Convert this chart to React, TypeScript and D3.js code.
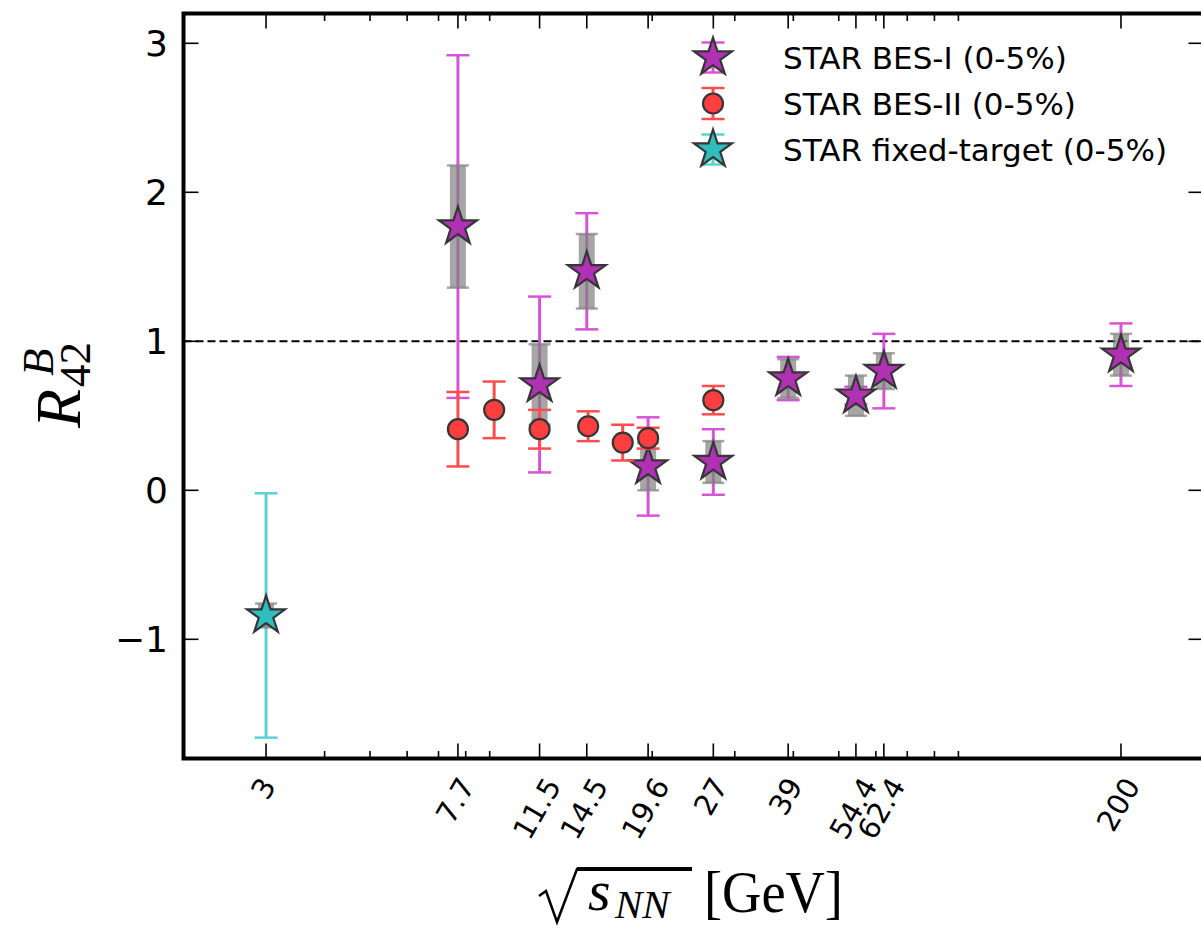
import React from 'react';
import * as d3 from 'd3';

// ---- data ----
const xTickValues = [3, 7.7, 11.5, 14.5, 19.6, 27, 39, 54.4, 62.4, 200];
const xTickLabels = ['3', '7.7', '11.5', '14.5', '19.6', '27', '39', '54.4', '62.4', '200'];
const xMinorTicks = [4, 5, 6, 7, 8, 9, 20, 30, 40, 50, 60, 70, 80, 90];
const yTickValues = [-1, 0, 1, 2, 3];
const yTickLabels = ['\u22121', '0', '1', '2', '3'];

const besIEnergy = [7.7, 11.5, 14.5, 19.6, 27, 39, 54.4, 62.4, 200];
const besIValue = [1.77, 0.71, 1.47, 0.16, 0.19, 0.75, 0.635, 0.8, 0.91];
const besIStat = [1.15, 0.59, 0.39, 0.33, 0.22, 0.145, 0.06, 0.25, 0.21];
const besISys = [0.41, 0.27, 0.25, 0.16, 0.14, 0.13, 0.135, 0.12, 0.14];

const besIIEnergy = [7.7, 9.2, 11.5, 14.6, 17.3, 19.6, 27];
const besIIValue = [0.41, 0.54, 0.41, 0.43, 0.32, 0.35, 0.605];
const besIIStat = [0.25, 0.19, 0.13, 0.1, 0.12, 0.07, 0.095];

const fxtEnergy = [3];
const fxtValue = [-0.84];
const fxtStat = [0.82];
const fxtSys = [0.08];

const legendLabels = ['STAR BES-I (0-5%)', 'STAR BES-II (0-5%)', 'STAR fixed-target (0-5%)'];

// ---- style ----
const MAG_FILL = '#b031b3';
const MAG_ERR = '#d655d6';
const RED_FILL = '#ff3f3f';
const RED_ERR = '#ff4d4d';
const CY_FILL = '#2fbdbd';
const CY_ERR = '#55d5d5';
const EDGE = '#363636';
const SYS = 'rgba(128,128,128,0.7)';

function charWidth(s: string, fs: number) {
  let w = 0;
  for (const c of s) w += c === '.' ? 0.318 : 0.636;
  return w * fs;
}

export default function App() {
  const W = 1201;
  const H = 928;
  const x = d3.scaleLog().domain([2, 300]).range([183.5, 1203.5]);
  const y = d3.scaleLinear().domain([-1.8, 3.2]).range([758.5, 13.5]);
  const [x0, x1] = x.range();
  const [yb, yt] = y.range();
  const starPath = d3.symbol().type(d3.symbolStar).size(449)() as string;

  const statBar = (xv: number, v: number, e: number, color: string, key: string) => {
    const cx = x(xv);
    return (
      <g key={key}>
        <line x1={cx} x2={cx} y1={y(v - e)} y2={y(v + e)} stroke={color} strokeWidth={3} />
        <line x1={cx - 11.5} x2={cx + 11.5} y1={y(v + e)} y2={y(v + e)} stroke={color} strokeWidth={2.5} />
        <line x1={cx - 11.5} x2={cx + 11.5} y1={y(v - e)} y2={y(v - e)} stroke={color} strokeWidth={2.5} />
      </g>
    );
  };
  const sysBar = (xv: number, v: number, e: number, key: string) => {
    const cx = x(xv);
    return (
      <g key={key}>
        <rect x={cx - 8} width={16} y={y(v + e)} height={y(v - e) - y(v + e)} fill={SYS} />
        <line x1={cx - 11} x2={cx + 11} y1={y(v + e)} y2={y(v + e)} stroke={SYS} strokeWidth={2.5} />
        <line x1={cx - 11} x2={cx + 11} y1={y(v - e)} y2={y(v - e)} stroke={SYS} strokeWidth={2.5} />
      </g>
    );
  };

  const legendRows = [57.5, 103.5, 149.5];
  const legendX = 713;

  return (
    <svg width={W} height={H} style={{ position: 'absolute', left: 0, top: 0, background: '#fff' }}>
      {/* reference line */}
      <line x1={x0} x2={x1} y1={y(1)} y2={y(1)} stroke="#000" strokeWidth={2} strokeDasharray="8 4" />

      {/* BES-I */}
      {besIEnergy.map((e, i) => statBar(e, besIValue[i], besIStat[i], MAG_ERR, 'bs' + i))}
      {besIEnergy.map((e, i) => sysBar(e, besIValue[i], besISys[i], 'by' + i))}
      {besIEnergy.map((e, i) => (
        <path key={'bm' + i} d={starPath} transform={`translate(${x(e)},${y(besIValue[i])})`}
          fill={MAG_FILL} stroke={EDGE} strokeWidth={2.2} />
      ))}

      {/* BES-II */}
      {besIIEnergy.map((e, i) => statBar(e, besIIValue[i], besIIStat[i], RED_ERR, 'rs' + i))}
      {besIIEnergy.map((e, i) => (
        <circle key={'rm' + i} cx={x(e)} cy={y(besIIValue[i])} r={10} fill={RED_FILL} stroke={EDGE} strokeWidth={2.2} />
      ))}

      {/* Fixed target */}
      {fxtEnergy.map((e, i) => statBar(e, fxtValue[i], fxtStat[i], CY_ERR, 'cs' + i))}
      {fxtEnergy.map((e, i) => sysBar(e, fxtValue[i], fxtSys[i], 'cy' + i))}
      {fxtEnergy.map((e, i) => (
        <path key={'cm' + i} d={starPath} transform={`translate(${x(e)},${y(fxtValue[i])})`}
          fill={CY_FILL} stroke={EDGE} strokeWidth={2.2} />
      ))}

      {/* axes frame */}
      <g stroke="#000" strokeWidth={1.6}>
        {xTickValues.map((v, i) => (
          <g key={'xt' + i}>
            <line x1={x(v)} x2={x(v)} y1={yb} y2={yb - 15} />
            <line x1={x(v)} x2={x(v)} y1={yt} y2={yt + 15} />
          </g>
        ))}
        {xMinorTicks.map((v, i) => (
          <g key={'xm' + i}>
            <line x1={x(v)} x2={x(v)} y1={yb} y2={yb - 7.5} />
            <line x1={x(v)} x2={x(v)} y1={yt} y2={yt + 7.5} />
          </g>
        ))}
        {yTickValues.map((v, i) => (
          <g key={'yt' + i}>
            <line x1={x0} x2={x0 + 15} y1={y(v)} y2={y(v)} />
            <line x1={x1} x2={x1 - 15} y1={y(v)} y2={y(v)} />
          </g>
        ))}
      </g>
      <rect x={x0} y={yt} width={x1 - x0} height={yb - yt} fill="none" stroke="#000" strokeWidth={4} />

      {/* y tick labels */}
      {yTickValues.map((v, i) => (
        <text key={'yl' + i} x={168} y={y(v)} dy="0.365em" textAnchor="end"
          fontFamily="DejaVu Sans" fontSize={36} fill="#000">{yTickLabels[i]}</text>
      ))}

      {/* x tick labels, rotated 60 deg */}
      {xTickValues.map((v, i) => {
        const fs = 29;
        const w = charWidth(xTickLabels[i], fs);
        const cy = 775 + (w * 0.866 + 0.365 * fs) / 2;
        const cx = x(v) - 3;
        return (
          <text key={'xl' + i} transform={`translate(${cx},${cy}) rotate(-60)`} textAnchor="middle" dy="0.365em"
            fontFamily="DejaVu Sans" fontSize={fs} fill="#000">{xTickLabels[i]}</text>
        );
      })}

      {/* y axis label R^B_42 */}
      <g transform="translate(80,428) rotate(-90)" fontFamily="Liberation Serif" fontStyle="italic" fill="#000">
        <text x={0} y={0} fontSize={64}>R</text>
        <text x={52} y={-27} fontSize={45}>B</text>
        <text x={41} y={10} fontSize={45} fontStyle="normal">42</text>
      </g>

      {/* x axis label sqrt(s_NN) [GeV] */}
      <g fill="#000" fontFamily="Liberation Serif">
        <path d="M539,896 L546,891 L557,922 L577,869 L692,869" fill="none" stroke="#000" strokeWidth={2.5} strokeLinejoin="miter" />
        <line x1={577} x2={692} y1={869} y2={869} stroke="#000" strokeWidth={4} />
        <text x={588} y={910} fontSize={58} fontStyle="italic">s</text>
        <text x={615} y={918} fontSize={41} fontStyle="italic">NN</text>
        <text x={704} y={912} fontSize={60} textLength={139} lengthAdjust="spacingAndGlyphs">[GeV]</text>
      </g>

      {/* legend */}
      <g>
        {statBar(x.invert(legendX), y.invert(legendRows[0]), 15 / 149, MAG_ERR, 'l0')}
        <path d={starPath} transform={`translate(${legendX},${legendRows[0]})`} fill={MAG_FILL} stroke={EDGE} strokeWidth={2.2} />
        {statBar(x.invert(legendX), y.invert(legendRows[1]), 15.5 / 149, RED_ERR, 'l1')}
        <circle cx={legendX} cy={legendRows[1]} r={10} fill={RED_FILL} stroke={EDGE} strokeWidth={2.2} />
        {statBar(x.invert(legendX), y.invert(legendRows[2]), 15 / 149, CY_ERR, 'l2')}
        <path d={starPath} transform={`translate(${legendX},${legendRows[2]})`} fill={CY_FILL} stroke={EDGE} strokeWidth={2.2} />
        {legendLabels.map((t, i) => (
          <text key={'lg' + i} x={783} y={legendRows[i] + 11} fontFamily="DejaVu Sans" fontSize={31} fill="#000">{t}</text>
        ))}
      </g>
    </svg>
  );
}
